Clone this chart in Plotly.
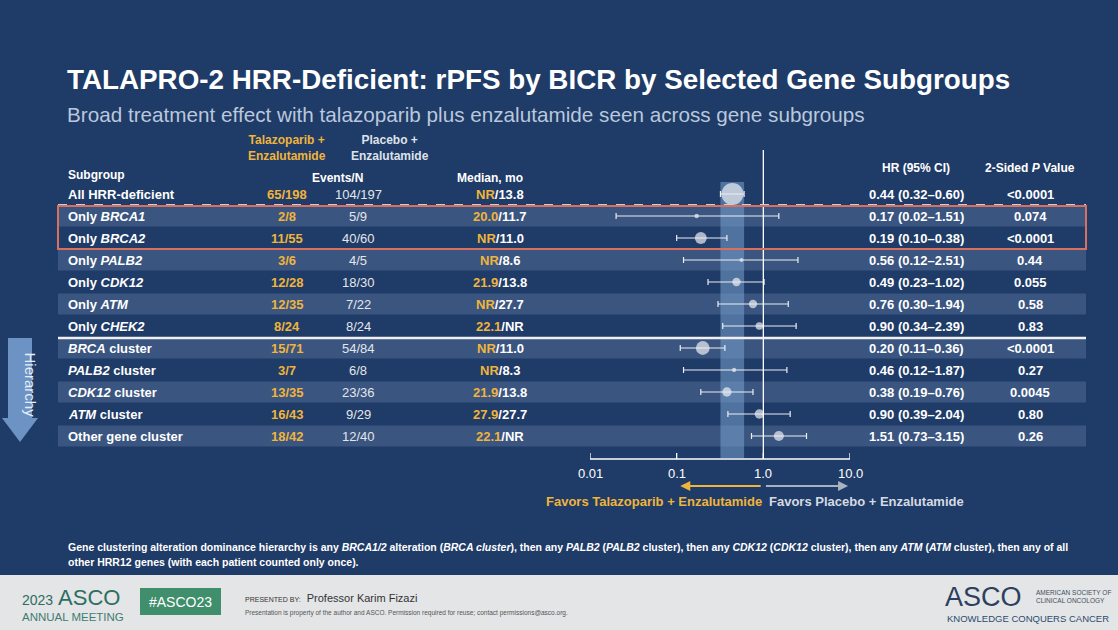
import plotly.graph_objects as go
import math

subgroups = ["All HRR-deficient", "Only <i>BRCA1</i>", "Only <i>BRCA2</i>", "Only <i>PALB2</i>", "Only <i>CDK12</i>",
             "Only <i>ATM</i>", "Only <i>CHEK2</i>", "<i>BRCA</i> cluster", "<i>PALB2</i> cluster", "<i>CDK12</i> cluster",
             "<i>ATM</i> cluster", "Other gene cluster"]
tal_events = ["65/198", "2/8", "11/55", "3/6", "12/28", "12/35", "8/24", "15/71", "3/7", "13/35", "16/43", "18/42"]
plc_events = ["104/197", "5/9", "40/60", "4/5", "18/30", "7/22", "8/24", "54/84", "6/8", "23/36", "9/29", "12/40"]
n_total = [395, 17, 115, 11, 58, 57, 48, 155, 15, 71, 72, 82]
med_tal = ["NR", "20.0", "NR", "NR", "21.9", "NR", "22.1", "NR", "NR", "21.9", "27.9", "22.1"]
med_plc = ["13.8", "11.7", "11.0", "8.6", "13.8", "27.7", "NR", "11.0", "8.3", "13.8", "27.7", "NR"]
hr = [0.44, 0.17, 0.19, 0.56, 0.49, 0.76, 0.90, 0.20, 0.46, 0.38, 0.90, 1.51]
lo = [0.32, 0.02, 0.10, 0.12, 0.23, 0.30, 0.34, 0.11, 0.12, 0.19, 0.39, 0.73]
hi = [0.60, 1.51, 0.38, 2.51, 1.02, 1.94, 2.39, 0.36, 1.87, 0.76, 2.04, 3.15]
pvals = ["<0.0001", "0.074", "<0.0001", "0.44", "0.055", "0.58", "0.83", "<0.0001", "0.27", "0.0045", "0.80", "0.26"]
ticks = [0.01, 0.1, 1.0, 10.0]
tick_labels = ["0.01", "0.1", "1.0", "10.0"]

W, H = 1118, 630
BG = "#1f3b67"
STRIPE = "#3a5580"
ORANGE = "#f0b43c"
WHITE = "#ffffff"
FONT = "Liberation Sans, Arial, sans-serif"

row_y = [194] + [216 + (i - 1) * 22.0 for i in range(1, len(subgroups))]

fig = go.Figure()
shapes = []
ann = []

def P(x):
    return x / W

def T(x, y, text, size=13, color=WHITE, bold=True, xanchor="left", **kw):
    ann.append(dict(x=P(x), y=y, xref="paper", yref="y", text=("<b>%s</b>" % text) if bold else text,
                    showarrow=False, xanchor=xanchor, yanchor="middle",
                    font=dict(size=size, color=color, family=FONT), **kw))

def R(x0, x1, y0, y1, **kw):
    shapes.append(dict(type="rect", xref="paper", yref="y", x0=P(x0), x1=P(x1), y0=y0, y1=y1, **kw))

for i, y in enumerate(row_y):
    if i in (1, 3, 5, 7, 9, 11):
        R(58, 1086, y - 10.5, y + 10.5, fillcolor=STRIPE, line_width=0, layer="below")
R(0, W, 575, 630, fillcolor="#e4e5e6", line_width=0, layer="below")
shapes.append(dict(type="rect", xref="x", yref="y", x0=lo[0], x1=hi[0], y0=182, y1=458,
                   fillcolor="rgba(120,160,205,0.55)", line_width=0, layer="below"))
shapes.append(dict(type="line", xref="x", yref="y", x0=1, x1=1, y0=150, y1=459, line=dict(color=WHITE, width=1.3)))
shapes.append(dict(type="line", xref="paper", yref="y", x0=P(58), x1=P(1086), y0=204.5, y1=204.5, line=dict(color="#c8cdd6", width=1.2, dash="dash")))
shapes.append(dict(type="line", xref="paper", yref="y", x0=P(58), x1=P(1086), y0=338, y1=338, line=dict(color="#f0f0f0", width=2.5)))
R(58, 1086, 206, 249, line=dict(color="#d9705f", width=2))
shapes.append(dict(type="line", xref="x", yref="y", x0=0.01, x1=10, y0=459, y1=459, line=dict(color=WHITE, width=1.3)))
for t, lab in zip(ticks, tick_labels):
    shapes.append(dict(type="line", xref="x", yref="y", x0=t, x1=t, y0=459, y1=453, line=dict(color=WHITE, width=1.3)))
    ann.append(dict(x=math.log10(t), y=473, xref="x", yref="y", text=lab, showarrow=False,
                    font=dict(size=13, color=WHITE, family=FONT)))
ann.append(dict(x=math.log10(0.11), y=486, ax=math.log10(0.97), ay=486, xref="x", yref="y", axref="x", ayref="y",
                text="", showarrow=True, arrowhead=2, arrowsize=1, arrowwidth=2, arrowcolor=ORANGE))
ann.append(dict(x=math.log10(9.5), y=486, ax=math.log10(1.03), ay=486, xref="x", yref="y", axref="x", ayref="y",
                text="", showarrow=True, arrowhead=2, arrowsize=1, arrowwidth=2, arrowcolor="#a9b3c0"))
T(764, 501, "Favors Talazoparib + Enzalutamide", color=ORANGE, xanchor="right")
T(767, 501, "Favors Placebo + Enzalutamide", color="#d5dae2")

R(8, 32, 338, 418, fillcolor="#6d93c4", line_width=0)
shapes.append(dict(type="path", xref="paper", yref="y",
                   path="M %f,418 L %f,418 L %f,442 Z" % (P(2), P(38), P(20)), fillcolor="#6d93c4", line_width=0))
ann.append(dict(x=P(20), y=385, xref="paper", yref="y", text="Hierarchy", textangle=90, showarrow=False,
                font=dict(size=15, color="#e6edf6", family=FONT)))

T(65, 79, "TALAPRO-2 HRR-Deficient: rPFS by BICR by Selected Gene Subgroups", size=27.8)
T(65, 114, "Broad treatment effect with talazoparib plus enzalutamide seen across gene subgroups", size=20.7, color="#b9c8dc", bold=False)
T(287, 148, "Talazoparib +<br>Enzalutamide", size=12, color=ORANGE, xanchor="center")
T(390, 148, "Placebo +<br>Enzalutamide", size=12, color="#dde2ea", xanchor="center")
T(337, 178, "Events/N", size=12, xanchor="center")
T(490, 178, "Median, mo", size=12, xanchor="center")
T(66, 175, "Subgroup", size=12)
T(916, 168, "HR (95% CI)", size=12, xanchor="center")
T(1030, 168, "2-Sided <i>P</i> Value", size=12, xanchor="center")

for i, y in enumerate(row_y):
    T(66, y, subgroups[i])
    T(287, y, tal_events[i], color=ORANGE, xanchor="center")
    T(358, y, plc_events[i], color="#e3e6ea", bold=False, xanchor="center")
    T(500, y, "<span style='color:%s'>%s</span>/%s" % (ORANGE, med_tal[i], med_plc[i]), xanchor="center")
    T(916, y, "%.2f (%.2f–%.2f)" % (hr[i], lo[i], hi[i]), xanchor="center")
    T(1030, y, pvals[i], xanchor="center")

fig.add_trace(go.Scatter(
    x=hr, y=row_y, mode="markers", xaxis="x", yaxis="y",
    marker=dict(size=[max(4, 1.107 * math.sqrt(n)) for n in n_total], color="#eceef2", line=dict(width=0)),
    error_x=dict(type="data", array=[h - m for h, m in zip(hi, hr)], arrayminus=[m - l for m, l in zip(hr, lo)],
                 color="#eceef2", thickness=1.2, width=3),
    showlegend=False, hoverinfo="skip"))

T(66, 547, "Gene clustering alteration dominance hierarchy is any <i>BRCA1/2</i> alteration (<i>BRCA cluster</i>), then any <i>PALB2</i> (<i>PALB2</i> cluster), then any <i>CDK12</i> (<i>CDK12</i> cluster), then any <i>ATM</i> (<i>ATM</i> cluster), then any of all", size=10.5)
T(66, 562, "other HRR12 genes (with each patient counted only once).", size=10.5)

T(20, 597, "<span style='font-size:14px'>2023</span> ASCO", size=22, color="#2d6e62", bold=False)
T(20, 617, "ANNUAL MEETING", size=11.5, color="#3f7d72", bold=False)
R(140, 221, 588, 615, fillcolor="#3f8e6c", line_width=0)
T(180.5, 601.5, "#ASCO23", size=14, color=WHITE, bold=False, xanchor="center")
T(243, 598, "<span style='font-size:7px'>PRESENTED BY:</span>  Professor Karim Fizazi", size=11, color="#333333", bold=False)
T(243, 613, "Presentation is property of the author and ASCO. Permission required for reuse; contact permissions@asco.org.", size=6.5, color="#555555", bold=False)
T(943, 597, "ASCO", size=27, color="#2c3f5f", bold=False)
T(1034, 596, "AMERICAN SOCIETY OF<br>CLINICAL ONCOLOGY", size=6.5, color="#3f4d63", bold=False, align="left")
T(945, 618, "KNOWLEDGE CONQUERS CANCER", size=9.5, color="#2c4a6e", bold=False)

fig.update_layout(
    width=W, height=H, margin=dict(l=0, r=0, t=0, b=0),
    paper_bgcolor=BG, plot_bgcolor="rgba(0,0,0,0)",
    xaxis=dict(type="log", range=[-2, 1], domain=[590 / W, 850 / W], visible=False),
    yaxis=dict(range=[H, 0], domain=[0, 1], visible=False),
    shapes=shapes, annotations=ann,
)
fig.write_html("out.html", config={"displayModeBar": False}, post_script="document.body.style.margin='0';")
